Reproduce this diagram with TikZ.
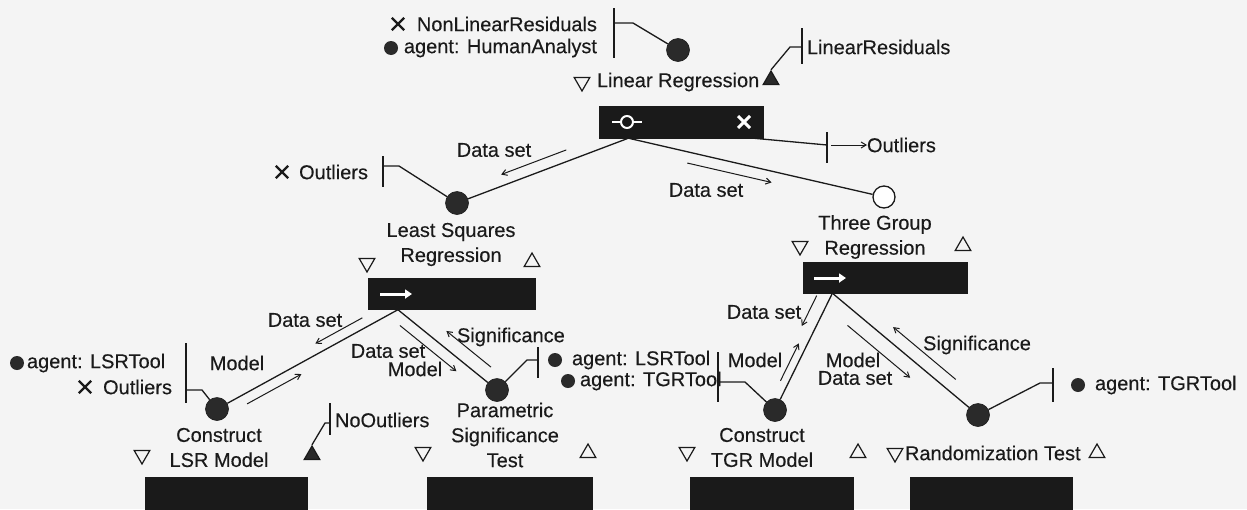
\documentclass[tikz,border=0pt]{standalone}
\usepackage{fontspec}
\setmainfont{Liberation Sans}
\newfontfamily\lbfont{Liberation Sans}[FakeBold=0.25]
\usetikzlibrary{shapes.geometric,shapes.misc,arrows.meta,calc}
\definecolor{ink}{HTML}{1A1A1A}
\definecolor{dotc}{HTML}{2A2A2A}
\definecolor{boxc}{HTML}{1A1A1A}
\definecolor{paper}{HTML}{F4F4F4}
\begin{document}
\begin{tikzpicture}[x=1pt,y=-1pt,
 lbl/.style={inner sep=0pt, outer sep=0pt, font=\lbfont\fontsize{20}{25}\selectfont, text=ink},
 conn/.style={draw=ink, line width=1.3pt},
 brk/.style={draw=ink, line width=1.5pt},
 sarr/.style={draw=ink, line width=1pt, -{Straight Barb[length=5pt,width=6pt]}},
 bigdot/.style={circle, fill=dotc, draw=ink, line width=0.6pt, minimum size=23pt, inner sep=0pt},
 opendot/.style={circle, fill=white, draw=ink, line width=1.3pt, minimum size=22pt, inner sep=0pt},
 smalldot/.style={circle, fill=dotc, minimum size=14pt, inner sep=0pt},
 xmk/.style={cross out, draw=ink, line width=2.4pt, minimum size=10pt, inner sep=0pt},
 tdown/.style={regular polygon, regular polygon sides=3, shape border rotate=180, draw=ink, line width=1.2pt, minimum size=18pt, inner sep=0pt},
 tup/.style={regular polygon, regular polygon sides=3, draw=ink, line width=1.2pt, minimum size=18pt, inner sep=0pt},
 tfill/.style={tup, fill=dotc},
 tbox/.style={fill=boxc, draw=boxc, inner sep=0pt},
 wico/.style={draw=white, line width=2pt},
]
\fill[paper] (0,0) rectangle (1247,509);
\useasboundingbox (0,0) rectangle (1247,509);

% ---------- top: Linear Regression ----------
\node[xmk] (x1) at (398,24) {};
\node[lbl, anchor=east] (nlr) at (597,24) {NonLinearResiduals};
\node[smalldot] (d1) at (391,48) {};
\node[lbl, anchor=east] (ha) at (597,48) {agent: HumanAnalyst};
\node[bigdot] (hac) at (678,50) {};
\coordinate (b1a) at (614,8); \coordinate (b1b) at (614,58);
\coordinate (b1m) at (614,23); \coordinate (b1k) at (633,23);
\draw[brk] (b1a) -- (b1b);
\draw[conn] (b1m) -- (b1k) -- (hac);

\node[tdown] (lrdn) at (582,82) {};
\node[lbl, anchor=west] (lrt) at (597,82) {Linear Regression};
\node[tfill] (lrup) at (771,80) {};
\coordinate (b2a) at (802,28); \coordinate (b2b) at (802,64);
\coordinate (b2m) at (802,47); \coordinate (b2k) at (790,47);
\draw[brk] (b2a) -- (b2b);
\draw[conn] (lrup.north) -- (b2k) -- (b2m);
\node[lbl, anchor=west] (lres) at (807,47) {LinearResiduals};

\node[tbox, minimum width=164pt, minimum height=32pt] (lrbox) at (681,122) {};
\draw[wico] (612,122) -- (621,122) (633,122) -- (642,122);
\draw[wico, fill=boxc] (627,122) circle (6pt);
\draw[draw=white, line width=3pt] (738,116) -- (750,128) (738,128) -- (750,116);

\coordinate (b3a) at (827,132); \coordinate (b3b) at (827,163); \coordinate (b3m) at (827,145);
\coordinate (lro) at ($(lrbox.south east)+(-10,0)$);
\draw[conn] (lro) -- (b3m);
\draw[brk] (b3a) -- (b3b);
\node[lbl, anchor=west] (outr) at (867,145) {Outliers};
\coordinate (b3s) at (831,145);
\draw[sarr] (b3s) -- (outr.west);

% ---------- Least Squares Regression ----------
\node[xmk] (x2) at (282,172) {};
\node[lbl, anchor=east] (outl) at (368,172) {Outliers};
\node[bigdot] (lsqc) at (457,203) {};
\coordinate (b4a) at (383,156); \coordinate (b4b) at (383,187);
\coordinate (b4m) at (383,166); \coordinate (b4k) at (399,166);
\draw[brk] (b4a) -- (b4b);
\draw[conn] (b4m) -- (b4k) -- (lsqc);
\node[lbl, align=center] (lsqt) at (451,244.5) {Least Squares\\Regression};
\node[tdown] (lsqdn) at (367,263) {};
\node[tup] (lsqup) at (532,262) {};
\node[tbox, minimum width=167pt, minimum height=31pt] (lsqbox) at (451.5,294) {};
\draw[draw=white, line width=3pt, -{Triangle[length=7pt,width=9pt]}] (380,294) -- (412,294);

% ---------- Three Group Regression ----------
\node[opendot] (tgc) at (884,197) {};
\node[lbl, align=center] (tgt) at (875,237) {Three Group\\Regression};
\node[tdown] (tgdn) at (800,246) {};
\node[tup] (tgup) at (963,246) {};
\node[tbox, minimum width=164pt, minimum height=31pt] (tgbox) at (885,277.5) {};
\draw[draw=white, line width=3pt, -{Triangle[length=7pt,width=9pt]}] (814,278) -- (846,278);

% connectors from Linear Regression
\coordinate (lrj) at ($(lrbox.south west)!0.18!(lrbox.south east)$);
\draw[conn] (lrj) -- (lsqc);
\draw[conn] (lrj) -- (tgc);
\draw[sarr] ($(lrj)!0.34!(lsqc)!11pt!-90:(lsqc)$) -- ($(lrj)!0.72!(lsqc)!11pt!-90:(lsqc)$);
\node[lbl] (l1) at (494,150) {Data set};
\draw[sarr] ($(lrj)!0.24!(tgc)!11pt!-90:(tgc)$) -- ($(lrj)!0.57!(tgc)!11pt!-90:(tgc)$);
\node[lbl] (l2) at (706,190) {Data set};

% ---------- Construct LSR Model ----------
\node[smalldot] (d2) at (17,363) {};
\node[lbl, anchor=west] (ag1) at (27,363) {agent: LSRTool};
\node[xmk] (x3) at (85,387) {};
\node[lbl, anchor=east] (out3) at (172,387) {Outliers};
\node[bigdot] (lsrc) at (217,409) {};
\coordinate (b5a) at (186,343); \coordinate (b5b) at (186,403);
\coordinate (b5m) at (186,390); \coordinate (b5k) at (202,390);
\draw[brk] (b5a) -- (b5b);
\draw[conn] (b5m) -- (b5k) -- (lsrc);
\node[lbl, align=center] (lsrt) at (219,447.5) {Construct\\LSR Model};
\node[tdown] (lsrdn) at (142,455) {};
\node[tfill] (nout) at (312,455) {};
\coordinate (b6a) at (330,403); \coordinate (b6b) at (330,435);
\coordinate (b6m) at (330,423); \coordinate (b6k) at (325,423);
\draw[brk] (b6a) -- (b6b);
\draw[conn] (nout.north) -- (b6k) -- (b6m);
\node[lbl, anchor=west] (noo) at (335,420) {NoOutliers};
\node[tbox, minimum width=162pt, minimum height=34pt] (lsrbox) at (226,494) {};

% ---------- Parametric Significance Test ----------
\node[bigdot] (parc) at (497,390) {};
\node[lbl, align=center] (part) at (505,435) {Parametric\\Significance\\Test};
\node[tdown] (pardn) at (423,452) {};
\node[tup] (parup) at (588,453) {};
\coordinate (b7a) at (538,347); \coordinate (b7b) at (538,378);
\coordinate (b7m) at (538,360); \coordinate (b7k) at (527,360);
\draw[brk] (b7a) -- (b7b);
\draw[conn] (parc) -- (b7k) -- (b7m);
\node[smalldot] (d3) at (555,360) {};
\node[lbl, anchor=west] (ag2) at (572,360) {agent: LSRTool};
\node[smalldot] (d4) at (568,381) {};
\node[lbl, anchor=west] (ag3) at (580,381) {agent: TGRTool};
\node[tbox, minimum width=165pt, minimum height=34pt] (parbox) at (509.5,494) {};

% connectors from LSQ box
\coordinate (lsqj) at ($(lsqbox.south west)!0.18!(lsqbox.south east)$);
\draw[conn] (lsqj) -- (lsrc);
\draw[conn] (lsqj) -- (parc);
\draw[sarr] ($(lsqj)!0.17!(lsrc)!10pt!-90:(lsrc)$) -- ($(lsqj)!0.43!(lsrc)!10pt!-90:(lsrc)$);
\node[lbl] (l3) at (305,320) {Data set};
\draw[sarr] ($(lsqj)!0.86!(lsrc)!10pt!90:(lsrc)$) -- ($(lsqj)!0.56!(lsrc)!10pt!90:(lsrc)$);
\node[lbl] (l4) at (237,363) {Model};
\draw[sarr] ($(lsqj)!0.09!(parc)!11pt!-90:(parc)$) -- ($(lsqj)!0.66!(parc)!11pt!-90:(parc)$);
\node[lbl] (l5) at (388,351) {Data set};
\node[lbl] (l6) at (415,369) {Model};
\draw[sarr] ($(lsqj)!0.85!(parc)!14pt!90:(parc)$) -- ($(lsqj)!0.40!(parc)!14pt!90:(parc)$);
\node[lbl, anchor=west] (l7) at (457,337) {Significance};

% ---------- Construct TGR Model ----------
\node[bigdot] (tgrc) at (775,410) {};
\coordinate (b8a) at (718,352); \coordinate (b8b) at (718,402);
\coordinate (b8m) at (718,382); \coordinate (b8k) at (745,382);
\draw[brk] (b8a) -- (b8b);
\draw[conn] (b8m) -- (b8k) -- (tgrc);
\node[lbl, align=center] (tgrt) at (762,447.5) {Construct\\TGR Model};
\node[tdown] (tgrdn) at (687,452) {};
\node[tup] (tgrup) at (858,453) {};
\node[tbox, minimum width=163pt, minimum height=34pt] (tgrbox) at (771.5,494) {};

% ---------- Randomization Test ----------
\node[bigdot] (rndc) at (978,415) {};
\coordinate (b9a) at (1053,368); \coordinate (b9b) at (1053,402);
\coordinate (b9m) at (1053,383); \coordinate (b9k) at (1040,383);
\draw[brk] (b9a) -- (b9b);
\draw[conn] (rndc) -- (b9k) -- (b9m);
\node[smalldot] (d5) at (1078,385) {};
\node[lbl, anchor=west] (ag4) at (1095,385) {agent: TGRTool};
\node[tdown] (rnddn) at (895,453) {};
\node[lbl, anchor=west] (rndt) at (905,453) {Randomization Test};
\node[tup] (rndup) at (1097,453) {};
\node[tbox, minimum width=162pt, minimum height=34pt] (rndbox) at (991,494) {};

% connectors from TG box
\coordinate (tgj) at ($(tgbox.south west)!0.18!(tgbox.south east)$);
\draw[conn] (tgj) -- (tgrc);
\draw[conn] (tgj) -- (rndc);
\draw[sarr] ($(tgj)!0.07!(tgrc)!13pt!-90:(tgrc)$) -- ($(tgj)!0.33!(tgrc)!13pt!-90:(tgrc)$);
\node[lbl] (l8) at (764,312) {Data set};
\draw[sarr] ($(tgj)!0.78!(tgrc)!8pt!-90:(tgrc)$) -- ($(tgj)!0.46!(tgrc)!8pt!-90:(tgrc)$);
\node[lbl] (l9) at (755,360) {Model};
\draw[sarr] ($(tgj)!0.17!(rndc)!15pt!-90:(rndc)$) -- ($(tgj)!0.60!(rndc)!15pt!-90:(rndc)$);
\node[lbl] (l10) at (853,360) {Model};
\node[lbl] (l11) at (855,378) {Data set};
\draw[sarr] ($(tgj)!0.79!(rndc)!13pt!90:(rndc)$) -- ($(tgj)!0.36!(rndc)!13pt!90:(rndc)$);
\node[lbl] (l12) at (977,345) {Significance};
\end{tikzpicture}
\end{document}
